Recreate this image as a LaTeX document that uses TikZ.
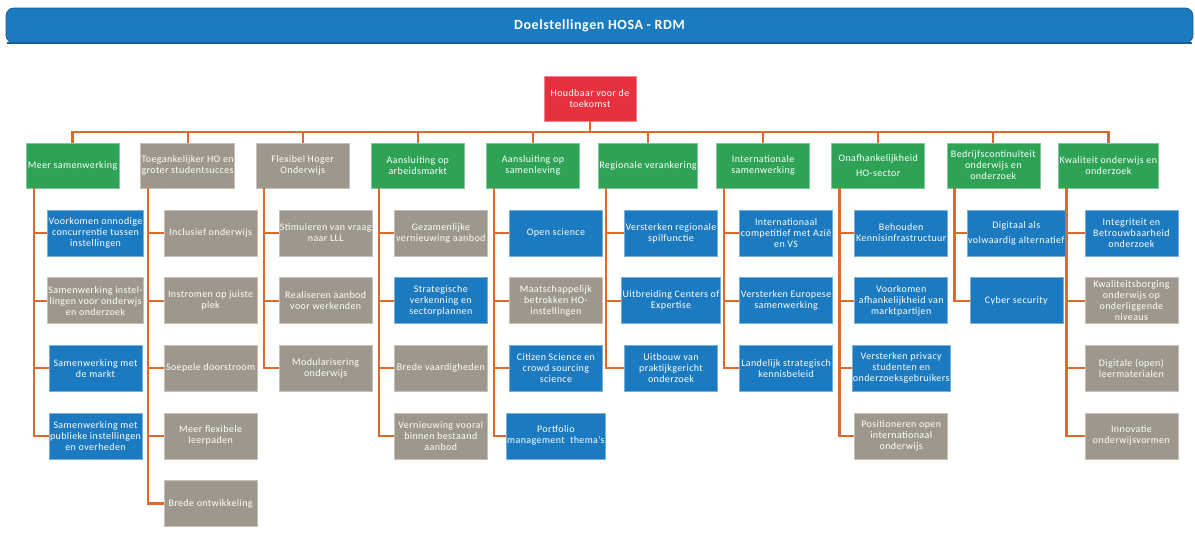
\documentclass[tikz,border=0pt]{standalone}
\usepackage{fontspec}
\setmainfont{Carlito}[LetterSpace=4]
\definecolor{hgreen}{RGB}{46,163,86}
\definecolor{hgray}{RGB}{157,152,139}
\definecolor{hblue}{RGB}{27,122,192}
\definecolor{hred}{RGB}{232,49,63}
\definecolor{horange}{RGB}{219,106,44}
\definecolor{htitle}{RGB}{27,123,193}
\definecolor{htitledark}{RGB}{22,94,150}
\newcommand\hosabox{\fontsize{10}{11}\selectfont}
\newcommand\hosatitle{\fontsize{14}{16}\selectfont\bfseries}
\tikzset{
  box/.style={rectangle, minimum width=93pt, minimum height=46pt, inner sep=1pt,
    align=center, text=white, font=\hosabox, line width=0.6pt},
  grn/.style={box, fill=hgreen, draw=hgreen!60!white, minimum height=45pt},
  gry/.style={box, fill=hgray, draw=hgray!60!white},
  blu/.style={box, fill=hblue, draw=hblue!60!white},
  rootbox/.style={box, fill=hred, draw=hred!60!white, minimum width=92pt, minimum height=45pt},
  link/.style={draw=horange, line width=2.2pt},
}
\begin{document}
\begin{tikzpicture}[x=1pt,y=-1pt]
\useasboundingbox (0,0) rectangle (1195,533);

% title bar
\node[rectangle, rounded corners=8pt, fill=htitle, draw=htitledark, line width=0.8pt,
      minimum width=1187pt, minimum height=35pt, inner sep=0pt, text=white, font=\hosatitle]
      (title) at (599.5,25.5) {Doelstellingen HOSA - RDM};
\draw[htitledark, line width=2pt] ([xshift=1pt]title.south west) -- ([xshift=-1pt]title.south east);

% root
\node[rootbox] (root) at (590,98.5) {Houdbaar voor de\\toekomst};

% first level
\node[grn] (L1)  at (72.5,165.5)  {Meer samenwerking};
\node[gry, minimum height=45pt] (L2)  at (187.6,165.5) {Toegankelijker HO en\\groter studentsucces};
\node[gry, minimum height=45pt] (L3)  at (302.7,165.5) {Flexibel Hoger\\Onderwijs};
\node[grn] (L4)  at (417.8,165.5) {Aansluiting op\\arbeidsmarkt};
\node[grn] (L5)  at (532.9,165.5) {Aansluiting op\\samenleving};
\node[grn] (L6)  at (648.0,165.5) {Regionale verankering};
\node[grn] (L7)  at (763.1,165.5) {Internationale\\samenwerking};
\node[grn] (L8)  at (878.2,165.5) {Onafhankelijkheid\\[4pt]HO-sector};
\node[grn] (L9)  at (993.3,165.5) {Bedrijfscontinu\"iteit\\onderwijs en\\onderzoek};
\node[grn] (L10) at (1108.4,165.5) {Kwaliteit onderwijs en\\onderzoek};

\foreach \n in {1,...,10}
  \draw[link] (root.south) -- ++(0,11) -| (L\n.north);

% column 1
\node[blu] (c1a) at (95.5,233)   {Voorkomen onnodige\\concurrentie tussen\\instellingen};
\node[gry] (c1b) at (95.5,300.6) {Samenwerking instel-\\lingen voor onderwjs\\en onderzoek};
\node[blu] (c1c) at (95.5,368.2) {Samenwerking met\\de markt};
\node[blu] (c1d) at (95.5,435.8) {Samenwerking met\\publieke instellingen\\en overheden};

% column 2
\node[gry] (c2a) at (210.6,233)   {Inclusief onderwijs};
\node[gry] (c2b) at (210.6,300.6) {Instromen op juiste\\plek};
\node[gry] (c2c) at (210.6,368.2) {Soepele doorstroom};
\node[gry] (c2d) at (210.6,435.8) {Meer flexibele\\leerpaden};
\node[gry] (c2e) at (210.6,503.4) {Brede ontwikkeling};

% column 3
\node[gry] (c3a) at (325.7,233)   {Stimuleren van vraag\\naar LLL};
\node[gry] (c3b) at (325.7,300.6) {Realiseren aanbod\\voor werkenden};
\node[gry] (c3c) at (325.7,368.2) {Modularisering\\onderwijs};

% column 4
\node[gry] (c4a) at (440.8,233)   {Gezamenlijke\\vernieuwing aanbod};
\node[blu] (c4b) at (440.8,300.6) {Strategische\\verkenning en\\sectorplannen};
\node[gry] (c4c) at (440.8,368.2) {Brede vaardigheden};
\node[gry] (c4d) at (440.8,435.8) {Vernieuwing vooral\\binnen bestaand\\aanbod};

% column 5
\node[blu] (c5a) at (555.9,233)   {Open science};
\node[gry] (c5b) at (555.9,300.6) {Maatschappelijk\\betrokken HO-\\instellingen};
\node[blu] (c5c) at (555.9,368.2) {Citizen Science en\\crowd sourcing\\science};
\node[blu] (c5d) at (555.9,435.8) {Portfolio\\management\ \ thema's};

% column 6
\node[blu] (c6a) at (671.0,233)   {Versterken regionale\\spilfunctie};
\node[blu] (c6b) at (671.0,300.6) {Uitbreiding Centers of\\Expertise};
\node[blu] (c6c) at (671.0,368.2) {Uitbouw van\\praktijkgericht\\onderzoek};

% column 7
\node[blu] (c7a) at (786.1,233)   {Internationaal\\competitief met Azi\"e\\en VS};
\node[blu] (c7b) at (786.1,300.6) {Versterken Europese\\samenwerking};
\node[blu] (c7c) at (786.1,368.2) {Landelijk strategisch\\kennisbeleid};

% column 8
\node[blu] (c8a) at (901.2,233)   {Behouden\\Kennisinfrastructuur};
\node[blu] (c8b) at (901.2,300.6) {Voorkomen\\afhankelijkheid van\\marktpartijen};
\node[blu] (c8c) at (901.2,368.2) {Versterken privacy\\studenten en\\onderzoeksgebruikers};
\node[gry] (c8d) at (901.2,435.8) {Positioneren open\\internationaal\\onderwijs};

% column 9
\node[blu] (c9a) at (1016.3,233)   {Digitaal als\\[4pt]volwaardig alternatief};
\node[blu] (c9b) at (1016.3,300.6) {Cyber security};

% column 10
\node[blu] (c10a) at (1131.4,233)   {Integriteit en\\Betrouwbaarheid\\onderzoek};
\node[gry] (c10b) at (1131.4,300.6) {Kwaliteitsborging\\onderwijs op\\onderliggende\\niveaus};
\node[gry] (c10c) at (1131.4,368.2) {Digitale (open)\\leermaterialen};
\node[gry] (c10d) at (1131.4,435.8) {Innovatie\\onderwijsvormen};

% connectors from each goal to its sub-goals
\foreach \p/\c in {1/c1a,1/c1b,1/c1c,1/c1d,
                   2/c2a,2/c2b,2/c2c,2/c2d,2/c2e,
                   3/c3a,3/c3b,3/c3c,
                   4/c4a,4/c4b,4/c4c,4/c4d,
                   5/c5a,5/c5b,5/c5c,5/c5d,
                   6/c6a,6/c6b,6/c6c,
                   7/c7a,7/c7b,7/c7c,
                   8/c8a,8/c8b,8/c8c,8/c8d,
                   9/c9a,9/c9b,
                   10/c10a,10/c10b,10/c10c,10/c10d}
  \draw[link] ([xshift=8pt]L\p.south west) |- (\c.west);
\end{tikzpicture}
\end{document}
